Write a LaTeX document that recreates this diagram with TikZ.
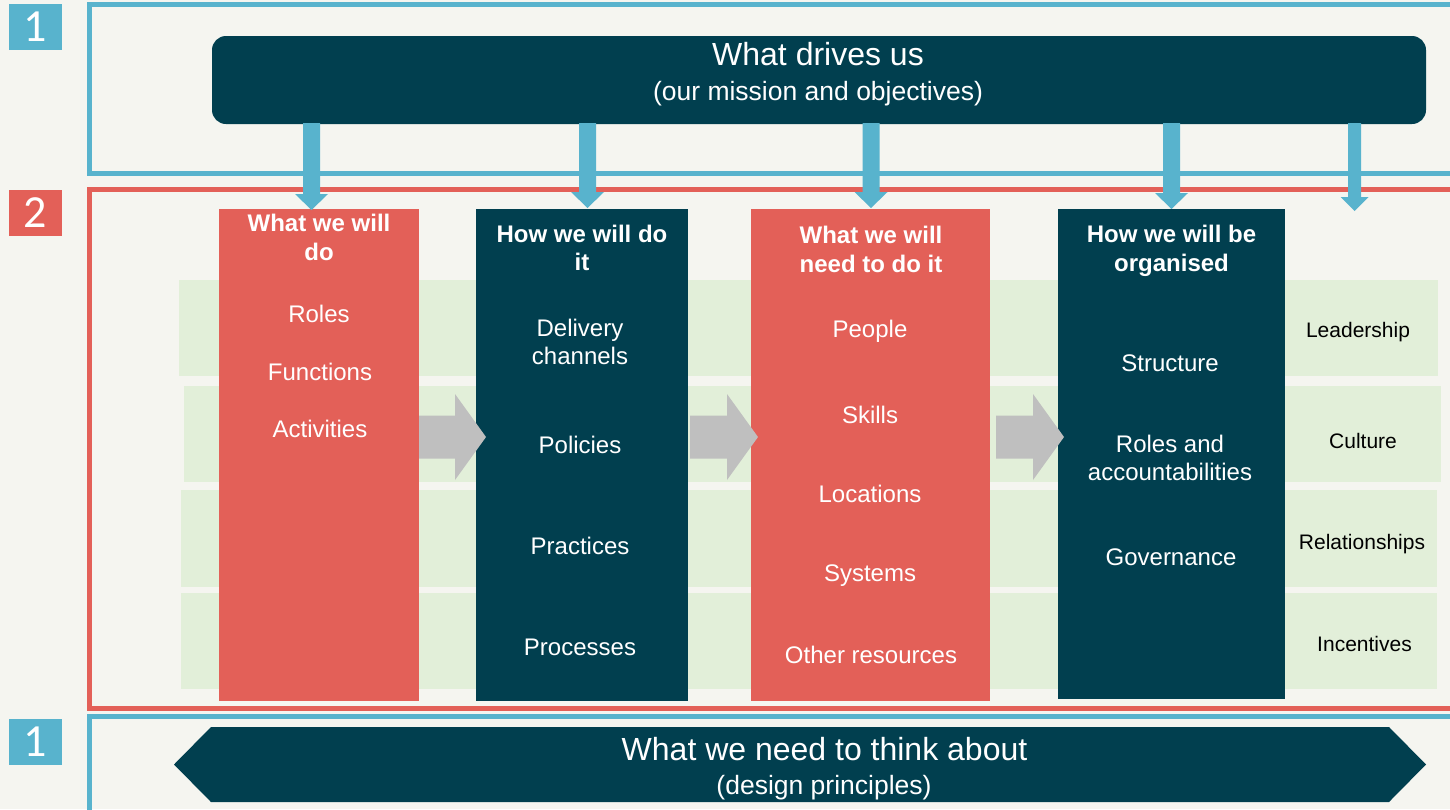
\documentclass[tikz,border=0pt]{standalone}
\usepackage{fontspec}
\setmainfont{Liberation Sans}
\newfontfamily\badgefont{Carlito}
\usetikzlibrary{calc}
\definecolor{bgc}{HTML}{F5F5F0}
\definecolor{dteal}{HTML}{013F4F}
\definecolor{cred}{HTML}{E36058}
\definecolor{cblue}{HTML}{58B3CD}
\definecolor{cgreen}{HTML}{E2EFD9}
\definecolor{cgray}{HTML}{BFBFBF}
\begin{document}
\begin{tikzpicture}[x=1pt,y=-1pt,
  colbox/.style={rectangle,draw=none,inner sep=0pt,outer sep=0pt},
  badge/.style={rectangle,draw=none,inner sep=0pt,minimum width=53pt,minimum height=46pt,text=white,font=\badgefont\fontsize{46}{46}\selectfont},
  hdr/.style={anchor=base,inner sep=0pt,text=white,font=\fontsize{24}{29}\selectfont\bfseries},
  body/.style={anchor=base,inner sep=0pt,text=white,font=\fontsize{24}{29}\selectfont},
  side/.style={anchor=base,inner sep=0pt,text=black,font=\fontsize{21}{25}\selectfont},
  big/.style={anchor=base,inner sep=0pt,text=white,font=\fontsize{32}{38}\selectfont},
  sub/.style={anchor=base,inner sep=0pt,text=white,font=\fontsize{26.5}{32}\selectfont},
  downarr/.style={fill=cblue,draw=none,to path={let \p1=(\tikztostart),\p2=(\tikztotarget) in
     (\x1-8.5pt,\y1+1pt) -- (\x1+8.5pt,\y1+1pt) -- (\x1+8.5pt,\y2+16pt) -- (\x1+16.5pt,\y2+16pt)
     -- (\x1,\y2) -- (\x1-16.5pt,\y2+16pt) -- (\x1-8.5pt,\y2+16pt) -- cycle}},
  downarrsmall/.style={fill=cblue,draw=none,to path={let \p1=(\tikztostart),\p2=(\tikztotarget) in
     (\x1-6.5pt,\y1+1pt) -- (\x1+6.5pt,\y1+1pt) -- (\x1+6.5pt,\y2+14pt) -- (\x1+14pt,\y2+14pt)
     -- (\x1,\y2) -- (\x1-14pt,\y2+14pt) -- (\x1-6.5pt,\y2+14pt) -- cycle}},
  rightarr/.style={fill=cgray,draw=none,to path={let \p1=(\tikztostart),\p2=(\tikztotarget) in
     (\x1,\y1+21.5pt) -- (\x2-31pt,\y1+21.5pt) -- (\x2-31pt,\y1+43pt) -- (\x2,\y1)
     -- (\x2-31pt,\y1-43pt) -- (\x2-31pt,\y1-21.5pt) -- (\x1,\y1-21.5pt) -- cycle}}
]
\useasboundingbox (0,0) rectangle (1450,809);
\clip (0,0) rectangle (1450,809);
\fill[bgc] (0,0) rectangle (1450,809);

% frames
\draw[cblue,line width=5pt] (89.5,4.5) rectangle (1480,173.5);
\draw[cred,line width=5pt] (89.5,189.5) rectangle (1480,708.5);
\draw[cblue,line width=5pt] (89.5,716.5) rectangle (1480,860);

% green bands
\fill[cgreen] (179,280) rectangle (1438,376);
\fill[cgreen] (184,386) rectangle (1441,482);
\fill[cgreen] (181,490) rectangle (1437,587);
\fill[cgreen] (181,593) rectangle (1437,689);

% columns
\node[colbox,fill=cred,minimum width=200pt,minimum height=492pt] (c1) at (319,455) {};
\node[colbox,fill=dteal,minimum width=212pt,minimum height=492pt] (c2) at (582,455) {};
\node[colbox,fill=cred,minimum width=239pt,minimum height=492pt] (c3) at (870.5,455) {};
\node[colbox,fill=dteal,minimum width=227pt,minimum height=490pt] (c4) at (1171.5,454) {};

% gray arrows
\coordinate (g1s) at (419,437);  \coordinate (g1e) at (486,437);
\coordinate (g2s) at (690,437);  \coordinate (g2e) at (758,437);
\coordinate (g3s) at (996,437);  \coordinate (g3e) at (1064,437);
\path[rightarr] (g1s) to (g1e);
\path[rightarr] (g2s) to (g2e);
\path[rightarr] (g3s) to (g3e);

% top box
\node[colbox,fill=dteal,rounded corners=14pt,minimum width=1214pt,minimum height=88pt] (top) at (819,80) {};
\node[big] (t1) at (818,65) {What drives us};
\node[sub] (t2) at (818,100) {(our mission and objectives)};

% blue arrows
\coordinate (e1) at (311.5,210);
\coordinate (e2) at (587.5,208);
\coordinate (e3) at (871,208);
\coordinate (e4) at (1171.5,209);
\coordinate (e5) at (1354.5,211);
\path[downarr] (top.south -| e1) to (e1);
\path[downarr] (top.south -| e2) to (e2);
\path[downarr] (top.south -| e3) to (e3);
\path[downarr] (top.south -| e4) to (e4);
\path[downarrsmall] (top.south -| e5) to (e5);

% column 1 texts
\node[hdr] (h1a) at (319,231) {What we will};
\node[hdr] (h1b) at (319,260) {do};
\node[body] (r1) at (319,322) {Roles};
\node[body] (r2) at (320,380) {Functions};
\node[body] (r3) at (320,437) {Activities};

% column 2 texts
\node[hdr] (h2a) at (582,242) {How we will do};
\node[hdr] (h2b) at (582,270) {it};
\node[body] (d1) at (580,336) {Delivery};
\node[body] (d2) at (580,364) {channels};
\node[body] (d3) at (580,453) {Policies};
\node[body] (d4) at (580,554) {Practices};
\node[body] (d5) at (580,655) {Processes};

% column 3 texts
\node[hdr] (h3a) at (871,243) {What we will};
\node[hdr] (h3b) at (871,272) {need to do it};
\node[body] (n1) at (870,337) {People};
\node[body] (n2) at (870,423) {Skills};
\node[body] (n3) at (870,502) {Locations};
\node[body] (n4) at (870,581) {Systems};
\node[body] (n5) at (871,663) {Other resources};

% column 4 texts
\node[hdr] (h4a) at (1171.5,242) {How we will be};
\node[hdr] (h4b) at (1171.5,271) {organised};
\node[body] (o1) at (1170,371) {Structure};
\node[body] (o2) at (1170,452) {Roles and};
\node[body] (o3) at (1170,480) {accountabilities};
\node[body] (o4) at (1171,565) {Governance};

% side labels
\node[side] (s1) at (1358,337) {Leadership};
\node[side] (s2) at (1363,448) {Culture};
\node[side] (s3) at (1362,549) {Relationships};
\node[side] (s4) at (1364.5,651) {Incentives};

% bottom banner
\fill[dteal] (174,764.5) -- (211,727) -- (1389,727) -- (1426,764.5) -- (1389,802) -- (211,802) -- cycle;
\node[big] (b1) at (824.5,760) {What we need to think about};
\node[sub] (b2) at (824,794) {(design principles)};

% badges
\node[badge,fill=cblue] (k1) at (35.5,27) {1};
\node[badge,fill=cred] (k2) at (35.5,213) {2};
\node[badge,fill=cblue] (k3) at (35.5,742) {1};
\end{tikzpicture}
\end{document}
